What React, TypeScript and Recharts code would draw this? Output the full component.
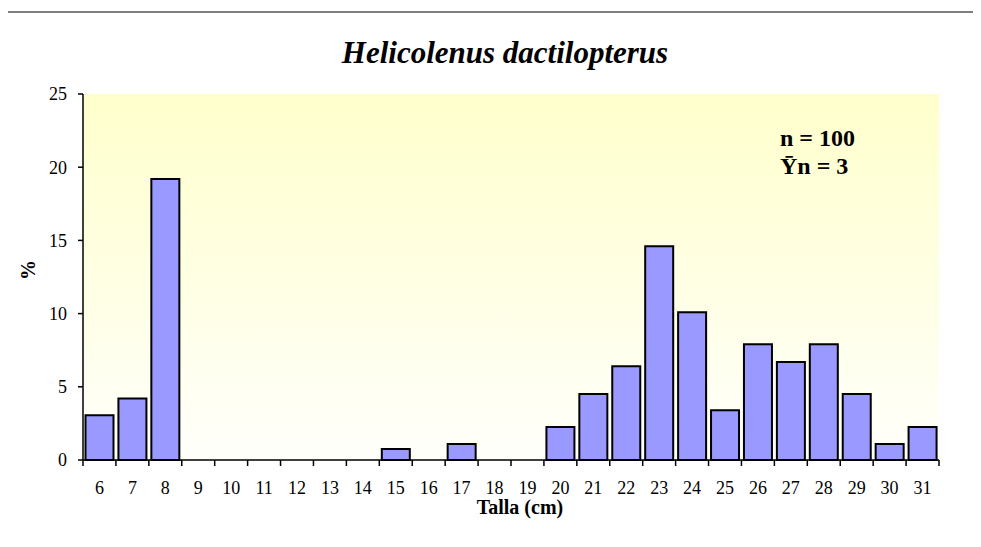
import { BarChart, Bar, XAxis, YAxis, CartesianGrid } from 'recharts';

// Talla (cm) classes and % of individuals
const tallas = [6, 7, 8, 9, 10, 11, 12, 13, 14, 15, 16, 17, 18, 19, 20, 21, 22, 23, 24, 25, 26, 27, 28, 29, 30, 31];
const percents = [3.05, 4.2, 19.2, 0, 0, 0, 0, 0, 0, 0.75, 0, 1.1, 0, 0, 2.25, 4.5, 6.4, 14.6, 10.1, 3.4, 7.9, 6.7, 7.9, 4.5, 1.1, 2.25];
const yTicks = [0, 5, 10, 15, 20, 25];

const TITLE = 'Helicolenus dactilopterus';
const N_TEXT = 'n = 100';
const YN_TEXT = '\u0232n = 3';

const serif = "'Liberation Serif', 'Times New Roman', serif";
const TICK_FONT = 18;
const X_TICK_MARGIN = 21;

const chartData = tallas.map((t, i) => ({
  talla: String(t),
  pct: percents[i],
}));

// Excel-style x tick: label at the bar centre, tick mark on the class boundary
function TallaTick(props: any) {
  const { x, y, payload, index } = props;
  const half = payload?.offset ?? 0;
  const axisY = y - X_TICK_MARGIN;
  const last = index === tallas.length - 1;
  return (
    <g>
      <line x1={x - half} x2={x - half} y1={axisY} y2={axisY + 6} stroke="#000" strokeWidth={1.5} />
      {last && (
        <line x1={x + half} x2={x + half} y1={axisY} y2={axisY + 6} stroke="#000" strokeWidth={1.5} />
      )}
      <text
        x={x}
        y={y}
        dy="0.71em"
        textAnchor="middle"
        fill="#000"
        fontSize={TICK_FONT}
        fontFamily={serif}
      >
        {payload.value}
      </text>
    </g>
  );
}

function PctTick(props: any) {
  const { x, y, payload } = props;
  return (
    <text
      x={x}
      y={y}
      dy="0.355em"
      textAnchor="end"
      fill="#000"
      fontSize={TICK_FONT}
      fontFamily={serif}
    >
      {payload.value}
    </text>
  );
}

export default function App() {
  return (
    <div
      style={{
        position: 'relative',
        margin: -8,
        width: 981,
        height: 547,
        overflow: 'hidden',
        background: '#fff',
        fontFamily: serif,
      }}
    >
      {/* outer chart frame (right and bottom edges fall outside the picture) */}
      <div
        style={{
          position: 'absolute',
          left: 6,
          top: 11,
          width: 1100,
          height: 700,
          borderLeft: '2px solid #808080',
          borderTop: '2px solid #808080',
        }}
      />
      <div style={{ position: 'absolute', left: 0, top: 0 }}>
        <BarChart
          width={981}
          height={547}
          data={chartData}
          margin={{ top: 94, right: 42, left: 10, bottom: 47 }}
          barCategoryGap={2.5}
        >
          <defs>
            <linearGradient id="plotBg" x1="0" y1="0" x2="0" y2="1">
              <stop offset="0%" stopColor="#FFFFCC" />
              <stop offset="100%" stopColor="#FFFFFB" />
            </linearGradient>
          </defs>
          <CartesianGrid
            fill="url(#plotBg)"
            horizontal={false}
            vertical={false}
            stroke="none"
          />
          <XAxis
            dataKey="talla"
            interval={0}
            height={40}
            tickSize={0}
            tickMargin={X_TICK_MARGIN}
            axisLine={{ stroke: '#000', strokeWidth: 1.5 }}
            tickLine={false}
            tick={<TallaTick />}
          />
          <YAxis
            domain={[0, 25]}
            ticks={yTicks}
            width={73}
            tickSize={5}
            tickMargin={11}
            axisLine={{ stroke: '#000', strokeWidth: 1.5 }}
            tickLine={{ stroke: '#000', strokeWidth: 1.5 }}
            tick={<PctTick />}
          />
          <Bar
            dataKey="pct"
            fill="#9999FF"
            stroke="#000"
            strokeWidth={2}
            isAnimationActive={false}
          />
        </BarChart>
      </div>

      {/* title */}
      <div
        style={{
          position: 'absolute',
          left: 305,
          width: 400,
          top: 37,
          textAlign: 'center',
          fontSize: 31,
          lineHeight: 1,
          fontWeight: 'bold',
          fontStyle: 'italic',
          whiteSpace: 'nowrap',
        }}
      >
        {TITLE}
      </div>

      {/* sample size annotation */}
      <div
        style={{
          position: 'absolute',
          left: 780,
          top: 125,
          fontSize: 24,
          lineHeight: '27.6px',
          fontWeight: 'bold',
          whiteSpace: 'nowrap',
        }}
      >
        <div>{N_TEXT}</div>
        <div>{YN_TEXT}</div>
      </div>

      {/* axis titles */}
      <div
        style={{
          position: 'absolute',
          left: 420,
          width: 200,
          top: 497,
          textAlign: 'center',
          fontSize: 20,
          lineHeight: 1,
          fontWeight: 'bold',
        }}
      >
        Talla (cm)
      </div>
      <div
        style={{
          position: 'absolute',
          left: 8,
          top: 260,
          width: 40,
          height: 20,
          textAlign: 'center',
          fontSize: 20,
          lineHeight: '20px',
          fontWeight: 'bold',
          transform: 'rotate(-90deg)',
        }}
      >
        %
      </div>
    </div>
  );
}
